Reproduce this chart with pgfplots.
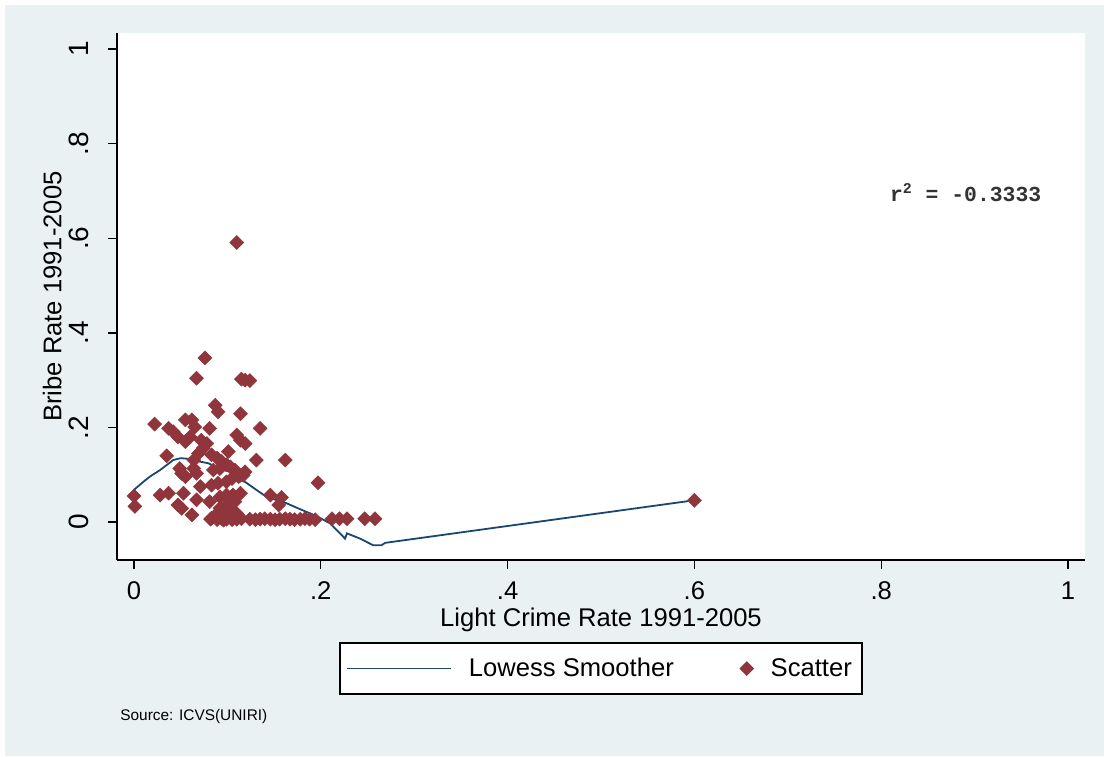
\documentclass[border=0pt]{standalone}
\usepackage{fontspec}
\setmainfont{Liberation Sans}
\newfontfamily\monofont{Liberation Mono}
\usepackage{pgfplots}
\pgfplotsset{compat=1.18}
\usepackage{pgfplotstable}
\definecolor{bgc}{RGB}{233,241,242}
\definecolor{smaroon}{RGB}{144,53,59}
\definecolor{snavy}{RGB}{26,71,111}
\pgfplotsset{lowessleg/.style={legend image code/.code={\draw[##1] (0pt,0pt) -- (52pt,0pt);}}}

\pgfplotstableread{
x y
0.110 0.591
0.076 0.347
0.067 0.304
0.115 0.302
0.119 0.300
0.124 0.299
0.087 0.247
0.090 0.233
0.114 0.229
0.022 0.207
0.037 0.198
0.042 0.191
0.047 0.180
0.055 0.216
0.062 0.216
0.065 0.201
0.055 0.170
0.060 0.180
0.081 0.198
0.072 0.173
0.078 0.166
0.074 0.156
0.069 0.145
0.135 0.198
0.110 0.184
0.114 0.173
0.119 0.166
0.035 0.140
0.064 0.131
0.083 0.142
0.089 0.135
0.094 0.128
0.099 0.121
0.103 0.117
0.101 0.149
0.131 0.131
0.162 0.131
0.049 0.113
0.051 0.103
0.064 0.113
0.067 0.103
0.085 0.110
0.092 0.113
0.108 0.110
0.114 0.099
0.119 0.106
0.055 0.096
0.071 0.075
0.083 0.078
0.090 0.082
0.099 0.085
0.105 0.092
0.112 0.096
0.117 0.099
0.197 0.083
0.000 0.055
0.001 0.033
0.028 0.057
0.037 0.061
0.053 0.061
0.047 0.036
0.051 0.029
0.067 0.047
0.081 0.043
0.092 0.053
0.099 0.057
0.106 0.057
0.114 0.061
0.101 0.040
0.108 0.043
0.146 0.057
0.158 0.052
0.155 0.036
0.062 0.015
0.083 0.008
0.090 0.011
0.096 0.004
0.099 0.022
0.105 0.025
0.110 0.018
0.089 0.018
0.092 0.029
0.098 0.025
0.082 0.006
0.089 0.005
0.094 0.007
0.099 0.006
0.105 0.005
0.110 0.006
0.115 0.007
0.124 0.006
0.130 0.005
0.135 0.006
0.140 0.007
0.146 0.006
0.151 0.005
0.156 0.006
0.162 0.007
0.167 0.006
0.172 0.005
0.178 0.006
0.183 0.007
0.188 0.006
0.194 0.005
0.212 0.007
0.220 0.007
0.228 0.007
0.247 0.007
0.258 0.007
0.600 0.046
}\scatterdata

\pgfplotstableread{
x y
0.000 0.068
0.010 0.085
0.017 0.096
0.028 0.110
0.042 0.131
0.050 0.135
0.062 0.133
0.070 0.128
0.080 0.124
0.092 0.112
0.104 0.106
0.110 0.097
0.121 0.082
0.131 0.068
0.142 0.053
0.163 0.040
0.178 0.027
0.196 0.012
0.210 -0.003
0.226 -0.035
0.228 -0.024
0.242 -0.035
0.256 -0.049
0.265 -0.049
0.269 -0.044
0.600 0.046
}\lowessdata

\begin{document}
\begin{tikzpicture}
\fill[white] (0pt,0pt) rectangle (552pt,-378pt);
\fill[bgc] (2.5pt,-2.5pt) rectangle (552pt,-378pt);
\begin{axis}[
  at={(58.5pt,-280pt)}, anchor=south west,
  scale only axis, width=484pt, height=263.5pt,
  xmin=-0.0182, xmax=1.0182, ymin=-0.0803, ymax=1.0338,
  axis x line*=bottom, axis y line*=left,
  axis line style={black, line width=0.7pt, -},
  axis background/.style={fill=white},
  xtick={0,0.2,0.4,0.6,0.8,1},
  xticklabels={0,.2,.4,.6,.8,1},
  ytick={0,0.2,0.4,0.6,0.8,1},
  yticklabels={0,.2,.4,.6,.8,1},
  tick align=outside, major tick length=4.5pt,
  tick style={black, line width=0.7pt},
  tick label style={font=\fontsize{12.8}{15}\selectfont, black},
  yticklabel style={rotate=90, anchor=south, font=\fontsize{14}{16}\selectfont, inner ysep=9.5pt},
  xticklabel shift=3pt,
  xlabel={Light Crime Rate 1991-2005},
  ylabel={Bribe Rate 1991-2005},
  label style={font=\fontsize{12.8}{15}\selectfont},
  xlabel style={at={(axis description cs:0.5,-0.114)}, anchor=center},
  ylabel style={at={(axis description cs:-0.067,0.5)}, anchor=center},
  legend style={at={(axis description cs:0.5,-0.206)}, anchor=center,
    draw=black, line width=0.8pt, fill=white, legend columns=2,
    font=\fontsize{12.8}{15}\selectfont,
    /tikz/every odd column/.append style={column sep=6.5pt},
    /tikz/every even column/.append style={column sep=31pt},
    inner xsep=3pt, inner ysep=5.3pt},
  legend cell align=left,
  clip=false,
]
\addlegendimage{snavy, line width=0.9pt, lowessleg}
\addlegendentry{Lowess Smoother}
\addplot[only marks, mark=square*, mark size=2.45pt, color=smaroon,
  mark options={rotate=45, fill=smaroon, draw=smaroon, line width=0.3pt}]
  table {\scatterdata};
\addlegendentry{Scatter\hspace{15.5pt}}
\addplot[snavy, line width=0.9pt, forget plot] table {\lowessdata};
\node[anchor=west, font=\monofont\bfseries\fontsize{10.7}{13}\selectfont, text=black!80, inner sep=0pt] at (axis cs:0.809,0.696) {r\textsuperscript{2} = -0.3333};
\end{axis}
\node[anchor=west, font=\fontsize{7.7}{9}\selectfont, inner sep=0pt] at (60pt,-358.5pt) {Source: ICVS(UNIRI)};
\pgfresetboundingbox
\useasboundingbox (0pt,0pt) rectangle (552pt,-378pt);
\end{tikzpicture}
\end{document}
